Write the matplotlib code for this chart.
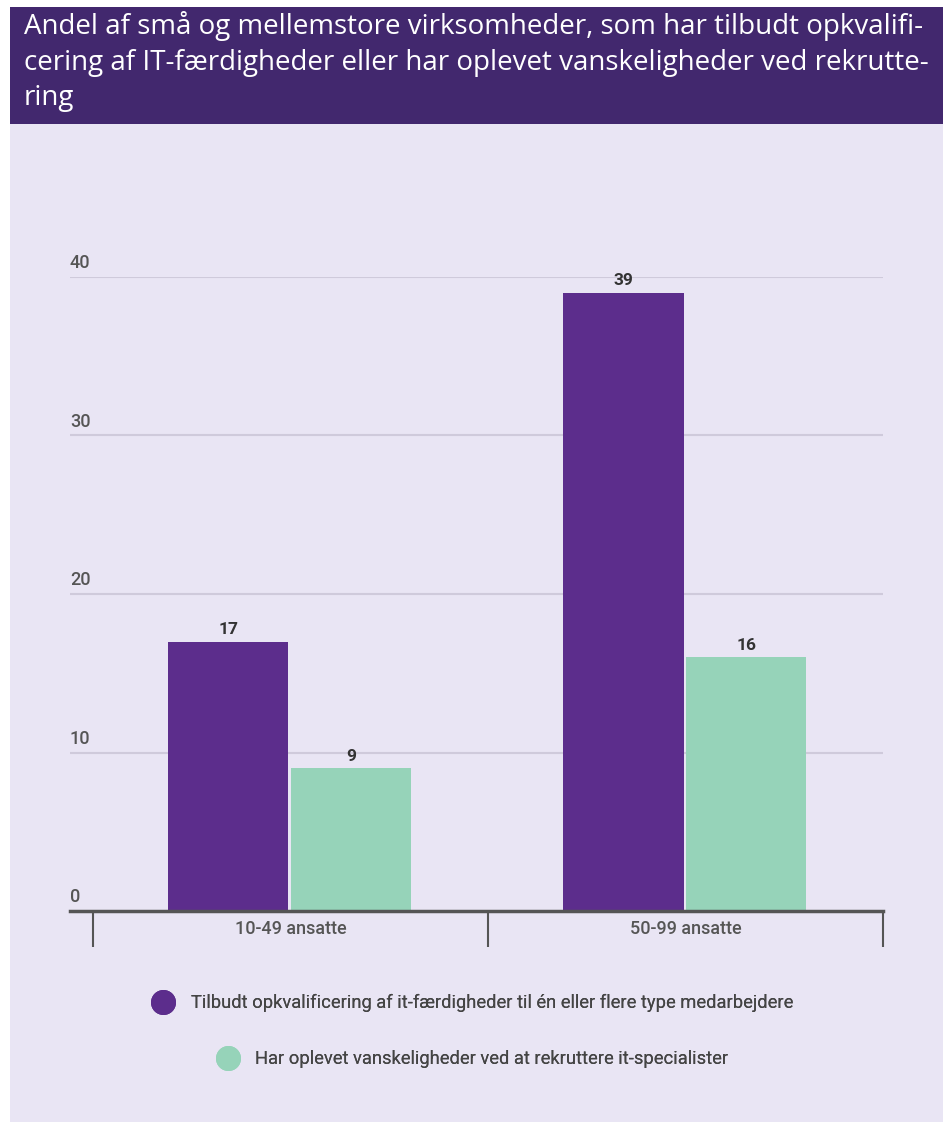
import matplotlib.pyplot as plt
from matplotlib.lines import Line2D
from matplotlib.patches import Rectangle

### Donnees

kategorier = ["10-49 ansatte", "50-99 ansatte"]
tilbudt = [17, 39]
rekruttering = [9, 16]
serie_navne = ["Tilbudt opkvalificering af it-færdigheder til én eller flere type medarbejdere",
               "Har oplevet vanskeligheder ved at rekruttere it-specialister"]
y_ticks = [0, 10, 20, 30, 40]
titel = ("Andel af små og mellemstore virksomheder, som har tilbudt opkvalifi-\n"
         "cering af IT-færdigheder eller har oplevet vanskeligheder ved rekrutte-\n"
         "ring")

### Couleurs

lilla = "#5c2d8c"
groen = "#96d3b9"
baggrund = "#e9e5f4"
banner = "#42286e"
graa = "#555555"

W, H = 945, 1122
fig = plt.figure(figsize=(W / 100, H / 100), dpi=100)
fig.patch.set_facecolor("white")

# fonds
fig.add_artist(Rectangle((10 / W, 0), 933 / W, (H - 124) / H, transform=fig.transFigure,
                         facecolor=baggrund, edgecolor="none", zorder=0))
fig.add_artist(Rectangle((10 / W, (H - 124) / H), 933 / W, 117 / H, transform=fig.transFigure,
                         facecolor=banner, edgecolor="none", zorder=0))
fig.text(24 / W, (H - 11) / H, titel, color="white", fontsize=20, va="top", ha="left",
         family="Open Sans", linespacing=1.36)

### Axes

ax = fig.add_axes([70 / W, (H - 911) / H, 813 / W, 634 / H])
ax.set_facecolor("none")
x = list(range(len(kategorier)))
bredde = 0.304
ax.bar([i - 0.157 for i in x], tilbudt, bredde, color=lilla, zorder=3)
ax.bar([i + 0.154 for i in x], rekruttering, bredde, color=groen, zorder=3)

for i in x:
    ax.text(i - 0.157, tilbudt[i] + 0.3, str(tilbudt[i]), ha="center", va="bottom",
            fontsize=12.5, fontweight="bold", color="#333333", family="Roboto")
    ax.text(i + 0.154, rekruttering[i] + 0.3, str(rekruttering[i]), ha="center", va="bottom",
            fontsize=12.5, fontweight="bold", color="#333333", family="Roboto")
    ax.text(i, -1.15, kategorier[i], ha="center", va="center", fontsize=13,
            fontweight="medium", color=graa, family="Roboto")

ax.set_xlim(-0.558, 1.5)
ax.set_ylim(0, 40)
ax.set_yticks(y_ticks)
ax.set_yticklabels([])
ax.tick_params(length=0)
ax.set_xticks([])
for t in y_ticks[1:]:
    ax.axhline(t, color="#cfcadb", linewidth=1.5, zorder=1)
for t in y_ticks:
    ax.text(0.0, t + 0.3, str(t), transform=ax.get_yaxis_transform(), ha="left", va="bottom",
            fontsize=13, fontweight="medium", color=graa, family="Roboto")
for s in ["top", "right", "left"]:
    ax.spines[s].set_visible(False)
ax.spines["bottom"].set_color(graa)
ax.spines["bottom"].set_linewidth(2.5)
ax.spines["bottom"].set_zorder(4)
ax.vlines([-0.5, 0.5, 1.5], -2.3, 0, color=graa, linewidth=1.5, clip_on=False)

### Legende

for k, (navn, farve) in enumerate(zip(serie_navne, [lilla, groen])):
    h = Line2D([], [], marker="o", linestyle="none", markersize=17, color=farve)
    leg = fig.legend(handles=[h], labels=[navn], loc="center", frameon=False,
                     bbox_to_anchor=(469 / W, (H - 1003 - 56 * k) / H),
                     prop={"family": "Roboto", "size": 13.2},
                     handletextpad=0.5, labelcolor="#444444")
    fig.add_artist(leg)

plt.savefig("out.png", dpi=100)
